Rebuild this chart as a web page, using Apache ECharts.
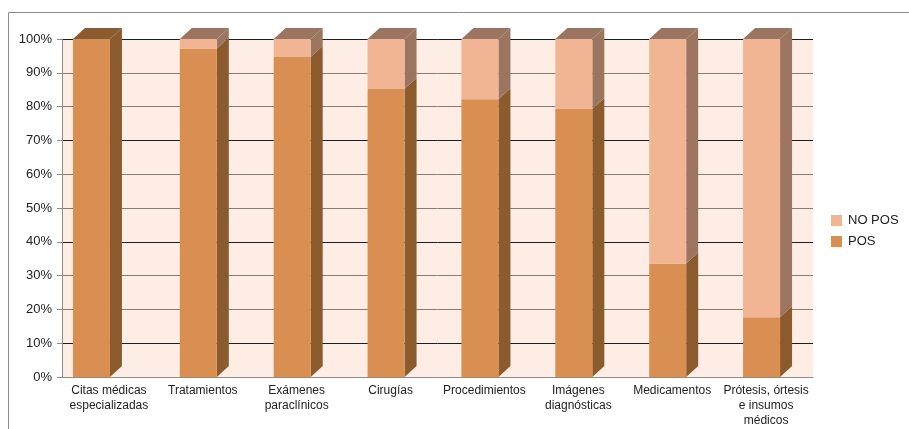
<!DOCTYPE html>
<html>
<head>
<meta charset="utf-8">
<script src="https://cdn.jsdelivr.net/npm/echarts@6/dist/echarts.min.js"></script>
<style>
  html, body { margin: 0; padding: 0; background: #fff; }
  #chart { width: 909px; height: 429px; }
</style>
</head>
<body>
<div id="chart"></div>
<script>
// categorias del eje x
var categories = ['Citas médicas\nespecializadas', 'Tratamientos', 'Exámenes\nparaclínicos', 'Cirugías',
    'Procedimientos', 'Imágenes\ndiagnósticas', 'Medicamentos', 'Prótesis, órtesis\ne insumos\nmédicos'];
// porcentajes
var pos = [100, 97.2, 94.7, 85.2, 82.2, 79.3, 33.6, 17.7];
var noPos = [0, 2.8, 5.3, 14.8, 17.8, 20.7, 66.4, 82.3];
var yTicks = [0, 10, 20, 30, 40, 50, 60, 70, 80, 90, 100];

// desplazamiento horizontal de cada columna (px)
var barNudge = [-13, 0, 0, 0, 0, 0, 0, 0];

var FRONT_W = 37, DX = 12, DY = 11;

function makeRender(front, side, top) {
    return function (params, api) {
        var i = api.value(0), lo = api.value(1), hi = api.value(2), isTop = api.value(3);
        if (hi <= lo) return null;
        var p0 = api.coord([i, lo]);
        var p1 = api.coord([i, hi]);
        var x0 = p0[0] - 23 + barNudge[i];
        var x1 = x0 + FRONT_W;
        var yb = p0[1], yt = p1[1];
        var children = [
            { type: 'polygon', shape: { points: [[x1, yb], [x1 + DX, yb - DY], [x1 + DX, yt - DY], [x1, yt]] },
              style: { fill: side } },
            { type: 'rect', shape: { x: x0, y: yt, width: FRONT_W, height: yb - yt },
              style: { fill: front } }
        ];
        if (isTop) {
            children.push({ type: 'polygon',
                shape: { points: [[x0, yt], [x0 + DX, yt - DY], [x1 + DX, yt - DY], [x1, yt]] },
                style: { fill: top } });
        }
        return { type: 'group', children: children };
    };
}

var posData = [], noPosData = [];
for (let i = 0; i < categories.length; i++) {
    posData.push([i, 0, pos[i], noPos[i] > 0 ? 0 : 1]);
    noPosData.push([i, pos[i], pos[i] + noPos[i], 1]);
}

var myChart = echarts.init(document.getElementById('chart'));
var option = {
    animation: false,
    textStyle: { fontFamily: 'Liberation Sans, Arial, sans-serif' },
    graphic: [
        { type: 'polyline', shape: { points: [[8.5, 429], [8.5, 12.5], [909, 12.5]] },
          style: { stroke: '#8c8c8c', lineWidth: 1, fill: null } }
    ],
    legend: {
        orient: 'vertical',
        left: 826,
        top: 209,
        itemWidth: 11,
        itemHeight: 11,
        itemGap: 8,
        itemStyle: { borderWidth: 0 },
        icon: 'rect',
        textStyle: { fontSize: 13, color: '#222', padding: [0, 0, 0, 1] },
        data: ['NO POS', 'POS']
    },
    grid: { left: 62, right: 96, top: 39, bottom: 52, show: true, backgroundColor: '#fdede4', borderWidth: 0 },
    xAxis: {
        type: 'category',
        data: categories,
        axisLine: { lineStyle: { color: '#8c8c8c' } },
        axisTick: { length: 5, lineStyle: { color: '#8c8c8c' } },
        axisLabel: { interval: 0, fontSize: 12, lineHeight: 15, color: '#222', margin: 6 }
    },
    yAxis: {
        type: 'value',
        min: 0,
        max: 100,
        interval: 10,
        axisLine: { show: true, lineStyle: { color: '#8c8c8c' } },
        axisTick: { show: true, length: 5, lineStyle: { color: '#8c8c8c' } },
        axisLabel: { formatter: '{value}%', fontSize: 13, color: '#222', margin: 10 },
        splitLine: { lineStyle: { color: ['#8a7c73', '#1e1e1e', '#8a7c73'] } }
    },
    series: [
        {
            name: 'POS',
            type: 'custom',
            color: '#d98f52',
            renderItem: makeRender('#d98f52', '#8b5a2d', '#8b5a2d'),
            encode: { x: 0, y: [1, 2] },
            data: posData
        },
        {
            name: 'NO POS',
            type: 'custom',
            color: '#f2b593',
            renderItem: makeRender('#f2b593', '#9c7561', '#9c7561'),
            encode: { x: 0, y: [1, 2] },
            data: noPosData
        }
    ]
};
myChart.setOption(option);
</script>
</body>
</html>
